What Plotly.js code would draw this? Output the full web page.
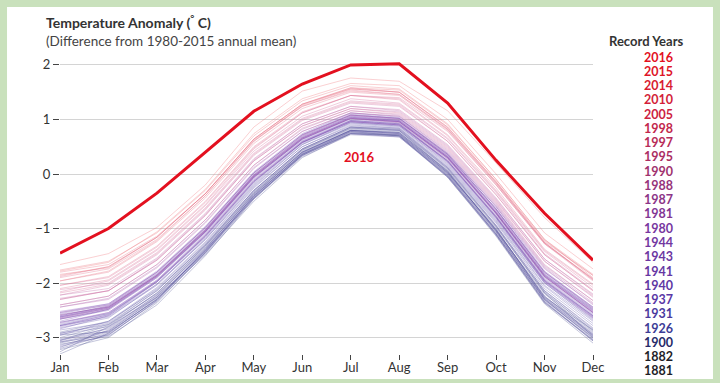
<!DOCTYPE html>
<html>
<head>
<meta charset="utf-8">
<script src="https://cdn.plot.ly/plotly-3.0.1.min.js"></script>
<style>
  html, body { margin: 0; padding: 0; background: #c9e1bc; }
  #chart { width: 720px; height: 383px; }
</style>
</head>
<body>
<div id="chart"></div>
<script>
// ---- Data ----
const months = ["Jan","Feb","Mar","Apr","May","Jun","Jul","Aug","Sep","Oct","Nov","Dec"];

const years = [1880,1881,1883,1885,1887,1889,1892,1894,1896,1898,1900,1902,1904,1906,1908,1910,1912,
  1914,1916,1918,1920,1922,1924,1926,1928,1930,1931,1933,1935,1937,1939,1940,1941,1943,1944,1946,
  1948,1950,1952,1954,1956,1958,1960,1962,1964,1966,1968,1970,1972,1973,1975,1977,1979,1980,1981,
  1983,1985,1987,1988,1990,1992,1994,1995,1997,1998,2000,2002,2004,2005,2007,2009,2010,2012,2014,2015];

const anomalies = [
  [-2.95,-2.90,-2.30,-1.40,-0.42,0.38,0.80,0.76,0.06,-0.98,-2.18,-2.98],
  [-3.05,-2.78,-2.18,-1.32,-0.34,0.44,0.84,0.80,0.04,-1.04,-2.26,-2.86],
  [-3.22,-3.00,-2.36,-1.44,-0.44,0.34,0.76,0.70,-0.02,-1.10,-2.34,-3.06],
  [-3.30,-2.92,-2.28,-1.48,-0.50,0.30,0.74,0.72,0.00,-1.06,-2.30,-3.02],
  [-3.12,-2.98,-2.40,-1.50,-0.46,0.36,0.78,0.70,-0.06,-1.14,-2.38,-3.10],
  [-2.90,-2.70,-2.12,-1.30,-0.30,0.46,0.86,0.82,0.10,-0.96,-2.16,-2.88],
  [-3.26,-2.80,-2.26,-1.44,-0.40,0.36,0.74,0.70,-0.04,-1.12,-2.36,-3.04],
  [-3.08,-2.95,-2.32,-1.38,-0.36,0.40,0.80,0.74,0.02,-1.00,-2.28,-2.96],
  [-3.00,-2.76,-2.20,-1.34,-0.34,0.42,0.82,0.78,0.06,-1.04,-2.20,-2.90],
  [-3.18,-2.86,-2.24,-1.36,-0.38,0.40,0.80,0.76,0.04,-1.02,-2.26,-2.94],
  [-2.92,-2.74,-2.14,-1.28,-0.30,0.46,0.86,0.82,0.12,-0.94,-2.14,-2.84],
  [-3.10,-2.90,-2.30,-1.42,-0.44,0.34,0.74,0.70,-0.04,-1.10,-2.32,-3.00],
  [-3.20,-2.94,-2.34,-1.46,-0.46,0.32,0.72,0.68,-0.06,-1.12,-2.36,-3.06],
  [-3.02,-2.84,-2.22,-1.36,-0.36,0.40,0.80,0.74,0.02,-1.02,-2.24,-2.94],
  [-3.14,-2.92,-2.30,-1.40,-0.42,0.36,0.76,0.72,-0.02,-1.08,-2.30,-3.00],
  [-3.08,-2.88,-2.26,-1.42,-0.40,0.36,0.78,0.72,0.00,-1.06,-2.30,-2.98],
  [-3.16,-2.96,-2.32,-1.44,-0.44,0.34,0.74,0.68,-0.04,-1.10,-2.34,-3.04],
  [-2.94,-2.80,-2.18,-1.32,-0.32,0.44,0.84,0.80,0.08,-0.96,-2.18,-2.86],
  [-3.04,-2.88,-2.26,-1.40,-0.40,0.38,0.78,0.74,0.02,-1.04,-2.28,-2.96],
  [-3.06,-2.82,-2.22,-1.38,-0.38,0.40,0.80,0.76,0.04,-1.02,-2.24,-2.92],
  [-2.92,-2.76,-2.14,-1.30,-0.30,0.46,0.86,0.80,0.10,-0.94,-2.14,-2.82],
  [-2.86,-2.72,-2.10,-1.26,-0.26,0.50,0.88,0.84,0.12,-0.90,-2.10,-2.78],
  [-2.96,-2.70,-2.08,-1.24,-0.24,0.50,0.90,0.84,0.14,-0.88,-2.06,-2.74],
  [-2.78,-2.62,-2.04,-1.20,-0.22,0.54,0.92,0.86,0.16,-0.86,-2.04,-2.70],
  [-2.82,-2.64,-2.02,-1.20,-0.20,0.54,0.94,0.88,0.18,-0.84,-2.00,-2.68],
  [-2.76,-2.56,-1.98,-1.16,-0.16,0.58,0.96,0.90,0.22,-0.80,-1.96,-2.62],
  [-2.72,-2.56,-1.96,-1.14,-0.14,0.58,0.98,0.92,0.24,-0.78,-1.96,-2.60],
  [-2.84,-2.60,-2.02,-1.18,-0.18,0.56,0.94,0.88,0.20,-0.82,-2.00,-2.66],
  [-2.78,-2.58,-1.96,-1.12,-0.12,0.60,0.98,0.92,0.24,-0.78,-1.94,-2.60],
  [-2.66,-2.48,-1.88,-1.06,-0.06,0.64,1.02,0.96,0.30,-0.72,-1.88,-2.54],
  [-2.62,-2.46,-1.86,-1.04,-0.04,0.66,1.04,0.98,0.32,-0.70,-1.86,-2.50],
  [-2.58,-2.44,-1.84,-1.02,-0.02,0.68,1.06,1.00,0.34,-0.66,-1.84,-2.48],
  [-2.56,-2.40,-1.80,-0.98,0.02,0.72,1.10,1.02,0.36,-0.64,-1.80,-2.46],
  [-2.60,-2.42,-1.82,-1.00,0.00,0.70,1.08,1.02,0.36,-0.64,-1.82,-2.48],
  [-2.54,-2.38,-1.78,-0.96,0.04,0.74,1.12,1.04,0.38,-0.60,-1.78,-2.44],
  [-2.66,-2.50,-1.90,-1.06,-0.06,0.64,1.02,0.96,0.30,-0.72,-1.90,-2.56],
  [-2.70,-2.48,-1.90,-1.08,-0.08,0.62,1.00,0.94,0.28,-0.74,-1.92,-2.58],
  [-2.80,-2.60,-1.98,-1.14,-0.14,0.58,0.96,0.90,0.24,-0.80,-1.98,-2.64],
  [-2.62,-2.44,-1.86,-1.04,-0.04,0.66,1.04,0.98,0.32,-0.70,-1.86,-2.52],
  [-2.74,-2.54,-1.94,-1.10,-0.10,0.60,0.98,0.92,0.26,-0.76,-1.94,-2.60],
  [-2.78,-2.58,-1.98,-1.14,-0.14,0.58,0.96,0.90,0.22,-0.80,-1.98,-2.64],
  [-2.52,-2.38,-1.80,-0.98,0.02,0.72,1.08,1.02,0.36,-0.64,-1.80,-2.44],
  [-2.64,-2.46,-1.88,-1.06,-0.06,0.64,1.02,0.96,0.30,-0.72,-1.88,-2.54],
  [-2.60,-2.42,-1.84,-1.02,-0.02,0.68,1.06,0.98,0.32,-0.68,-1.84,-2.50],
  [-2.72,-2.54,-1.96,-1.12,-0.12,0.58,0.96,0.90,0.24,-0.78,-1.96,-2.62],
  [-2.62,-2.44,-1.86,-1.04,-0.04,0.66,1.04,0.96,0.30,-0.70,-1.86,-2.52],
  [-2.66,-2.48,-1.88,-1.06,-0.06,0.64,1.02,0.96,0.30,-0.72,-1.88,-2.54],
  [-2.54,-2.40,-1.80,-0.98,0.02,0.72,1.08,1.00,0.34,-0.66,-1.80,-2.46],
  [-2.64,-2.46,-1.86,-1.02,-0.02,0.70,1.08,1.02,0.38,-0.60,-1.74,-2.38],
  [-2.44,-2.28,-1.70,-0.88,0.12,0.78,1.12,1.06,0.40,-0.58,-1.72,-2.40],
  [-2.58,-2.44,-1.86,-1.04,-0.04,0.66,1.02,0.94,0.28,-0.72,-1.88,-2.54],
  [-2.44,-2.30,-1.72,-0.90,0.10,0.78,1.12,1.06,0.42,-0.56,-1.70,-2.36],
  [-2.40,-2.24,-1.66,-0.84,0.16,0.82,1.16,1.08,0.44,-0.54,-1.68,-2.32],
  [-2.30,-2.14,-1.58,-0.76,0.24,0.88,1.20,1.14,0.50,-0.48,-1.60,-2.26],
  [-2.22,-2.10,-1.54,-0.72,0.28,0.92,1.24,1.16,0.52,-0.46,-1.56,-2.22],
  [-2.28,-2.14,-1.56,-0.74,0.26,0.92,1.24,1.18,0.54,-0.44,-1.56,-2.20],
  [-2.40,-2.24,-1.66,-0.84,0.16,0.84,1.16,1.10,0.46,-0.52,-1.66,-2.32],
  [-2.22,-2.04,-1.48,-0.66,0.34,0.98,1.30,1.24,0.60,-0.38,-1.48,-2.14],
  [-2.12,-2.00,-1.44,-0.62,0.38,1.02,1.34,1.28,0.64,-0.34,-1.46,-2.12],
  [-2.16,-1.96,-1.40,-0.58,0.42,1.06,1.38,1.30,0.66,-0.32,-1.42,-2.08],
  [-2.30,-2.14,-1.58,-0.76,0.24,0.88,1.20,1.12,0.48,-0.50,-1.60,-2.24],
  [-2.18,-2.02,-1.46,-0.64,0.36,1.00,1.32,1.26,0.60,-0.38,-1.48,-2.14],
  [-2.04,-1.90,-1.34,-0.52,0.48,1.12,1.44,1.38,0.72,-0.26,-1.38,-2.02],
  [-2.10,-1.94,-1.38,-0.56,0.46,1.12,1.44,1.40,0.78,-0.20,-1.28,-1.96],
  [-1.88,-1.70,-1.16,-0.36,0.64,1.28,1.58,1.50,0.84,-0.16,-1.26,-1.92],
  [-2.04,-1.88,-1.32,-0.50,0.50,1.14,1.44,1.36,0.70,-0.30,-1.40,-2.04],
  [-1.90,-1.74,-1.20,-0.40,0.60,1.24,1.54,1.46,0.82,-0.18,-1.26,-1.94],
  [-1.96,-1.80,-1.24,-0.44,0.56,1.20,1.50,1.44,0.80,-0.20,-1.28,-1.92],
  [-1.84,-1.72,-1.16,-0.36,0.64,1.28,1.56,1.50,0.86,-0.14,-1.22,-1.86],
  [-1.80,-1.66,-1.14,-0.36,0.62,1.24,1.52,1.46,0.82,-0.16,-1.26,-1.94],
  [-1.96,-1.78,-1.22,-0.40,0.60,1.26,1.56,1.50,0.86,-0.14,-1.24,-1.86],
  [-1.76,-1.60,-1.08,-0.30,0.70,1.34,1.62,1.56,0.92,-0.10,-1.20,-1.90],
  [-1.86,-1.70,-1.16,-0.36,0.64,1.28,1.58,1.54,0.90,-0.10,-1.20,-1.84],
  [-1.78,-1.62,-1.06,-0.28,0.74,1.38,1.66,1.62,1.00,0.00,-1.08,-1.74],
  [-1.66,-1.46,-0.98,-0.20,0.86,1.52,1.76,1.70,1.16,0.20,-0.80,-1.62]
];

const year2016 = [-1.45,-1.00,-0.35,0.40,1.15,1.65,2.00,2.02,1.30,0.25,-0.72,-1.58];

const recordYears = ["2016","2015","2014","2010","2005","1998","1997","1995","1990","1988","1987",
  "1981","1980","1944","1943","1941","1940","1937","1931","1926","1900","1882","1881"];

const yTicks = [-3,-2,-1,0,1,2];

// ---- Styling helpers ----
const FONT = "Lato, 'Open Sans', sans-serif";
const stops = [
  [1880, [70, 78, 140]],
  [1925, [95, 80, 170]],
  [1960, [132, 78, 186]],
  [1990, [210, 100, 150]],
  [2015, [240, 110, 115]]
];
function yearColor(y, a) {
  let c = stops[stops.length - 1][1];
  for (let i = 0; i < stops.length - 1; i++) {
    const [y0, c0] = stops[i], [y1, c1] = stops[i + 1];
    if (y >= y0 && y <= y1) {
      const t = (y - y0) / (y1 - y0);
      c = c0.map((v, k) => Math.round(v + t * (c1[k] - v)));
      break;
    }
  }
  return `rgba(${c[0]},${c[1]},${c[2]},${a})`;
}
const labelStops = [
  [0, [227, 16, 31]], [4, [205, 35, 65]], [8, [160, 50, 110]], [12, [120, 55, 160]],
  [17, [90, 55, 165]], [19, [60, 60, 150]], [20, [38, 42, 105]], [21, [30, 30, 40]], [22, [30, 30, 40]]
];
function labelColor(i) {
  for (let k = 0; k < labelStops.length - 1; k++) {
    const [i0, c0] = labelStops[k], [i1, c1] = labelStops[k + 1];
    if (i >= i0 && i <= i1) {
      const t = (i - i0) / (i1 - i0);
      const c = c0.map((v, j) => Math.round(v + t * (c1[j] - v)));
      return `rgb(${c[0]},${c[1]},${c[2]})`;
    }
  }
  return "rgb(30,30,40)";
}

// ---- Traces ----
const traces = years.map((yr, i) => ({
  type: "scatter", mode: "lines",
  x: months, y: anomalies[i],
  line: { color: yearColor(yr, 0.32), width: 1 },
  hoverinfo: "skip", showlegend: false
}));
traces.push({
  type: "scatter", mode: "lines",
  x: months, y: year2016,
  line: { color: "#e3101f", width: 3 },
  hoverinfo: "skip", showlegend: false
});

// ---- Annotations ----
const annotations = [
  { xref: "paper", yref: "paper", x: -0.030, y: 1.107, xanchor: "left", yanchor: "middle",
    text: "<b>Temperature Anomaly (<sup>°</sup> C)</b>", showarrow: false,
    font: { family: FONT, size: 14, color: "#333" } },
  { xref: "paper", yref: "paper", x: -0.030, y: 1.043, xanchor: "left", yanchor: "middle",
    text: "(Difference from 1980-2015 annual mean)", showarrow: false,
    font: { family: FONT, size: 13.5, color: "#444" } },
  { xref: "paper", yref: "paper", x: 1.099, y: 1.043, xanchor: "center", yanchor: "middle",
    text: "<b>Record Years</b>", showarrow: false,
    font: { family: FONT, size: 13, color: "#333" } },
  { xref: "x", yref: "y", x: 6.19, y: 0.31, xanchor: "center", yanchor: "middle",
    text: "<b>2016</b>", showarrow: false,
    font: { family: FONT, size: 13, color: "#e3101f" } }
];
recordYears.forEach((ry, i) => {
  const py = 57 + i * 14.27;
  annotations.push({
    xref: "paper", yref: "paper", x: 1.122, y: (354 - py) / 300,
    xanchor: "center", yanchor: "middle", text: "<b>" + ry + "</b>", showarrow: false,
    font: { family: FONT, size: 12.5, color: labelColor(i) }
  });
});

const layout = {
  width: 720, height: 383,
  margin: { l: 60, r: 127, t: 54, b: 29 },
  paper_bgcolor: "#c9e1bc",
  plot_bgcolor: "rgba(0,0,0,0)",
  font: { family: FONT, size: 13, color: "#333" },
  xaxis: {
    type: "category", range: [0, 11], showgrid: false, zeroline: false, showline: false,
    ticks: "outside", ticklen: 5, tickwidth: 1, tickcolor: "#444", ticklabelstandoff: -4,
    tickfont: { family: FONT, size: 13, color: "#333" }
  },
  yaxis: {
    range: [-3.3, 2.2], tickvals: yTicks, ticktext: yTicks.map(v => v < 0 ? "\u2212" + Math.abs(v) : String(v)),
    showgrid: true, gridcolor: "#d4d4d4", gridwidth: 1, zeroline: false, showline: false,
    ticks: "outside", ticklen: 6, tickwidth: 1, tickcolor: "#444",
    tickfont: { family: FONT, size: 13, color: "#333" }
  },
  shapes: [{
    type: "rect", xref: "paper", yref: "paper", layer: "below",
    x0: -0.0994, x1: 1.2251, y0: -0.0833, y1: 1.1567,
    fillcolor: "#ffffff", line: { width: 0 }
  }],
  annotations: annotations,
  showlegend: false
};

Plotly.newPlot("chart", traces, layout, { staticPlot: true, displayModeBar: false });
</script>
</body>
</html>
